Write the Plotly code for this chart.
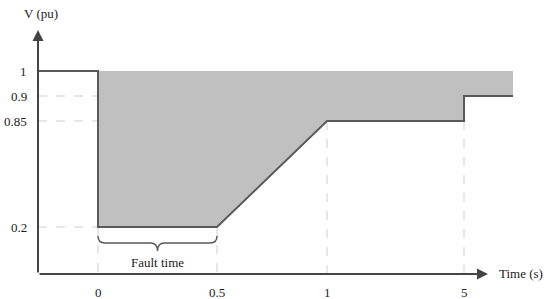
import numpy as np
import plotly.graph_objects as go

# ---- data ----
time_ticks = [0, 0.5, 1, 5]
time_tick_labels = ["0", "0.5", "1", "5"]
volt_ticks = [1, 0.9, 0.85, 0.2]
volt_tick_labels = ["1", "0.9", "0.85", "0.2"]

t_start = -0.25          # axis origin (time)
t_end = 6.4              # right end of the curve
curve_t = [0, 0, 0.5, 1, 5, 5, t_end]
curve_v = [1, 0.2, 0.2, 0.85, 0.85, 0.9, 0.9]
prefault_t = [t_start, 0]
prefault_v = [1, 1]
fault_start, fault_end = 0, 0.5

# ---- schematic (piecewise) scales: value -> page pixel ----
X_KNOT_T = [t_start, 0, 0.5, 1, 5, t_end]
X_KNOT_PX = [38, 98, 217, 327, 464, 513]
Y_KNOT_V = [0, 0.2, 0.85, 0.9, 1]
Y_KNOT_PX = [274, 227, 121, 96, 71]


def sx(t):
    return np.interp(np.asarray(t, float), X_KNOT_T, X_KNOT_PX)


def sy(v):
    return np.interp(np.asarray(v, float), Y_KNOT_V, Y_KNOT_PX)


FONT = dict(family="'Times New Roman', 'Liberation Serif', 'DejaVu Serif', serif", size=13, color="#222222")
LINE = "#5a5a5a"
GUIDE = "#cfcfcf"

fig = go.Figure()

# shaded region between V=1 and the curve
poly_t = [0, t_end] + curve_t[::-1]
poly_v = [1, 1] + curve_v[::-1]
fig.add_trace(go.Scatter(x=sx(poly_t), y=sy(poly_v), mode="lines", fill="toself",
                         fillcolor="#c0c0c0", line=dict(width=0), hoverinfo="skip"))

# dashed guides
for v in [0.9, 0.85, 0.2]:
    fig.add_trace(go.Scatter(x=sx([t_start, 0]), y=sy([v, v]), mode="lines",
                             line=dict(color=GUIDE, width=1, dash="dash"), hoverinfo="skip"))
for t, v in [(0, 0.2), (0.5, 0.2), (1, 0.85), (5, 0.85)]:
    fig.add_trace(go.Scatter(x=sx([t, t]), y=sy([v, 0]), mode="lines",
                             line=dict(color=GUIDE, width=1, dash="dash"), hoverinfo="skip"))

# curve
fig.add_trace(go.Scatter(x=sx(prefault_t + curve_t[1:]), y=sy(prefault_v + curve_v[1:]),
                         mode="lines", line=dict(color=LINE, width=2), hoverinfo="skip"))

# axes with arrows
x0, y0 = float(sx(t_start)), float(sy(0))
fig.add_annotation(x=488, y=y0, ax=x0, ay=y0, xref="x", yref="y", axref="x", ayref="y",
                   showarrow=True, arrowhead=2, arrowsize=1.1, arrowwidth=2, arrowcolor="#444444", text="")
fig.add_annotation(x=x0, y=30, ax=x0, ay=y0, xref="x", yref="y", axref="x", ayref="y",
                   showarrow=True, arrowhead=2, arrowsize=1.1, arrowwidth=2, arrowcolor="#444444", text="")

# axis titles
fig.add_annotation(x=41, y=13, text="V (pu)", showarrow=False, font=FONT, xref="x", yref="y")
fig.add_annotation(x=521, y=273, text="Time (s)", showarrow=False, font=FONT, xref="x", yref="y")

# tick labels
for t, lab in zip(time_ticks, time_tick_labels):
    fig.add_annotation(x=float(sx(t)), y=292, text=lab, showarrow=False, font=FONT, xref="x", yref="y")
for v, lab in zip(volt_ticks, volt_tick_labels):
    fig.add_annotation(x=29, y=float(sy(v)), text=lab, showarrow=False, font=FONT,
                       xref="x", yref="y", xanchor="right")

# brace for fault time
bx1, bx2 = float(sx(fault_start)), float(sx(fault_end))
xc = (bx1 + bx2) / 2
yt, ym, yb = 236, 243, 251
path = (f"M {bx1},{yt} Q {bx1},{ym} {bx1+7},{ym} L {xc-7},{ym} Q {xc},{ym} {xc},{yb} "
        f"Q {xc},{ym} {xc+7},{ym} L {bx2-7},{ym} Q {bx2},{ym} {bx2},{yt}")
fig.add_shape(type="path", path=path, xref="x", yref="y", line=dict(color=LINE, width=1.5))
fig.add_annotation(x=xc, y=262, text="Fault time", showarrow=False, font=FONT, xref="x", yref="y")

fig.update_layout(
    width=550, height=299, margin=dict(l=0, r=0, t=0, b=0),
    plot_bgcolor="white", paper_bgcolor="white", showlegend=False,
    xaxis=dict(range=[0, 550], visible=False, fixedrange=True),
    yaxis=dict(range=[299, 0], visible=False, fixedrange=True),
)

fig.write_html("out.html", config={"displayModeBar": False},
               post_script="document.body.style.margin='0';document.body.style.padding='0';")
